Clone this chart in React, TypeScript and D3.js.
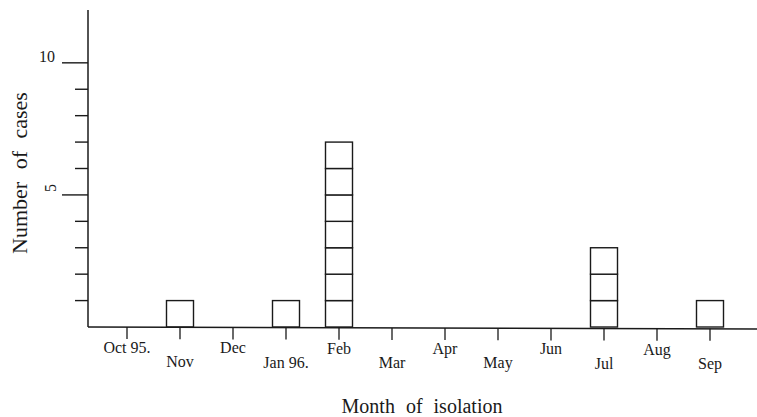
import React, { useEffect, useRef } from "react";
import * as d3 from "d3";

const months = ["Oct 95.", "Nov", "Dec", "Jan 96.", "Feb", "Mar", "Apr", "May", "Jun", "Jul", "Aug", "Sep"];
const cases = [0, 1, 0, 1, 7, 0, 0, 0, 0, 3, 0, 1];
const yTicks = [1, 2, 3, 4, 5, 6, 7, 8, 9, 10];
const yLabels = [5, 10];

const W = 757;
const H = 417;

const App: React.FC = () => {
  const ref = useRef<SVGSVGElement>(null);

  useEffect(() => {
    const svg = d3.select(ref.current);
    svg.selectAll("*").remove();

    const x0 = 88;
    const y0 = 327;
    const font = "'Liberation Serif', 'DejaVu Serif', serif";
    const ink = "#1a1a1a";

    const x = d3.scalePoint<string>().domain(months).range([127, 710]);
    const y = d3.scaleLinear().domain([0, 12]).range([y0, 10]);
    const barW = 27;
    const unit = y(0) - y(1);

    const g = svg.append("g");

    // stacked unit boxes, one per case
    months.forEach((m, i) => {
      d3.range(cases[i]).forEach((k) => {
        g.append("rect")
          .attr("x", x(m)! - barW / 2)
          .attr("y", y(k + 1))
          .attr("width", barW)
          .attr("height", unit)
          .attr("fill", "#fff")
          .attr("stroke", ink)
          .attr("stroke-width", 1.4);
      });
    });

    // axes
    g.append("line")
      .attr("x1", x0).attr("x2", x0)
      .attr("y1", y(12)).attr("y2", y0)
      .attr("stroke", ink).attr("stroke-width", 1.5);
    g.append("line")
      .attr("x1", x0).attr("x2", W)
      .attr("y1", y0).attr("y2", y0 + 2)
      .attr("stroke", ink).attr("stroke-width", 1.5);

    // y ticks
    g.selectAll(".yt")
      .data(yTicks)
      .join("line")
      .attr("x1", (d) => (yLabels.includes(d) ? 62 : 75))
      .attr("x2", x0)
      .attr("y1", (d) => y(d))
      .attr("y2", (d) => y(d))
      .attr("stroke", ink)
      .attr("stroke-width", 1.4);

    g.append("text")
      .attr("x", 47).attr("y", y(10) - 1)
      .attr("text-anchor", "middle")
      .attr("font-family", font).attr("font-size", 16)
      .attr("fill", ink)
      .text("10");
    g.append("text")
      .attr("transform", `translate(50,${y(5) - 7}) rotate(-90)`)
      .attr("text-anchor", "middle")
      .attr("dy", "0.35em")
      .attr("font-family", font).attr("font-size", 16)
      .attr("fill", ink)
      .text("5");

    // x ticks
    months.forEach((m, i) => {
      const px = x(m)!;
      const base = y0 + 2 * ((px - x0) / (W - x0));
      g.append("line")
        .attr("x1", px).attr("x2", px)
        .attr("y1", base).attr("y2", base + 12)
        .attr("stroke", ink).attr("stroke-width", 1.3);
      g.append("text")
        .attr("x", px)
        .attr("y", base + (i % 2 === 0 ? 26 : 40))
        .attr("text-anchor", "middle")
        .attr("font-family", font).attr("font-size", 16)
        .attr("fill", ink)
        .text(m);
    });

    // axis titles
    g.append("text")
      .attr("transform", `translate(27,173) rotate(-90)`)
      .attr("text-anchor", "middle")
      .attr("font-family", font).attr("font-size", 22)
      .attr("fill", ink)
      .attr("word-spacing", 7)
      .text("Number of cases");
    g.append("text")
      .attr("x", 422).attr("y", 413)
      .attr("text-anchor", "middle")
      .attr("font-family", font).attr("font-size", 20)
      .attr("fill", ink)
      .attr("word-spacing", 6)
      .text("Month of isolation");
  }, []);

  return (
    <svg
      ref={ref}
      width={W}
      height={H}
      style={{ position: "absolute", left: 0, top: 0, background: "#fff" }}
    />
  );
};

export default App;
